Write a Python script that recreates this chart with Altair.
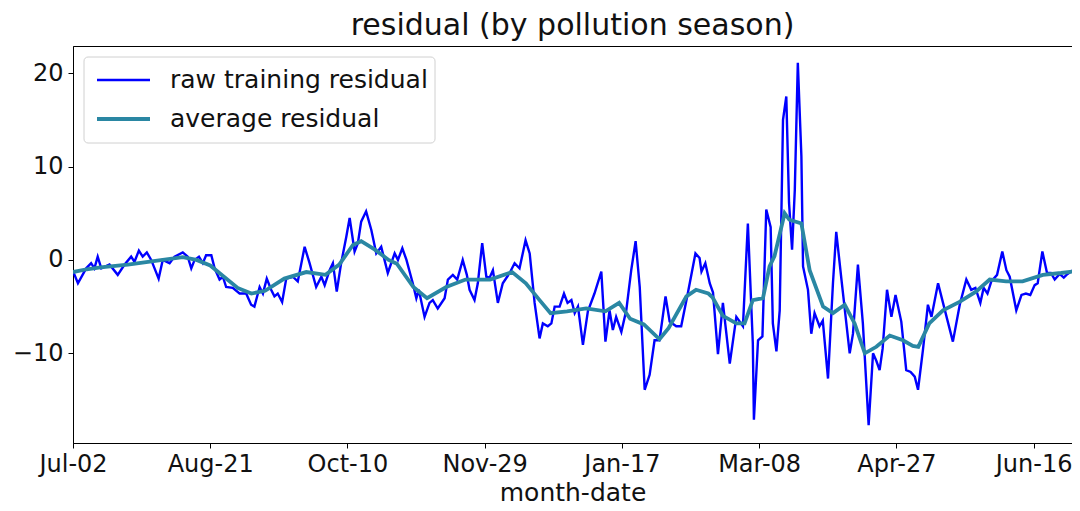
import altair as alt
import pandas as pd

# ---- data ----
tick_days = [0, 50, 100, 150, 200, 250, 300, 350]
tick_labels = ["Jul-02", "Aug-21", "Oct-10", "Nov-29", "Jan-17", "Mar-08", "Apr-27", "Jun-16"]
y_ticks = [-10, 0, 10, 20]

raw_day = [0, 1.8, 4.8, 6.6, 7.8, 9, 10.3, 13.3, 16.3, 18.8, 21.2, 22.4, 24, 25.4, 26.9, 28.5,
           31.2, 32.7, 35.2, 37, 40, 41.8, 43.1, 44.3, 45.9, 47.3, 48.5, 50.4, 51.6, 53.4, 54.6,
           55.8, 58.2, 60.7, 63.1, 64.9, 66.1, 68, 69.2, 70.6, 72.2, 73.4, 74.6, 76.2, 77.7, 80.1,
           81.9, 84.4, 86.2, 88.6, 90.5, 91.7, 93.5, 94.7, 96.1, 97.7, 99.6, 100.8, 102.6, 103.8,
           105, 106.8, 108.7, 110.5, 112.3, 114.7, 117.2, 118.4, 120, 121.5, 123.8, 125.1, 126,
           128.1, 129.9, 131.1, 132.9, 135.4, 136.6, 138.4, 140, 142, 143.5, 144.5, 146.3, 147.5,
           149.1, 150.6, 151.8, 153, 154.8, 156.6, 159.1, 160.9, 162.7, 164.9, 166.4, 168.2, 170,
           171.2, 173, 174.3, 175.5, 177.3, 178.9, 180.2, 181.6, 182.8, 184, 185.8, 187.6, 190,
           192.5, 194, 195.5, 196.7, 197.9, 199.8, 201.6, 203.4, 205, 206.5, 208.3, 210.1, 211.9,
           213.7, 215.9, 217.4, 219.8, 221.6, 224, 226.8, 228.3, 229, 230.4, 232, 233.2, 235,
           236.8, 239.3, 241.7, 244.1, 245.9, 247.7, 248.1, 249.6, 251.2, 252.6, 254.2, 255,
           256.3, 257.5, 258.7, 259.9, 260.9, 262, 263, 264.1, 265.4, 266, 267.8, 269, 270.2, 272,
           273.2, 275.1, 276.9, 278.1, 280, 283, 284.2, 286, 287.8, 289.9, 291.5, 292.7, 293.9,
           295, 296.6, 298.2, 299.7, 301.8, 303.6, 305.2, 306.7, 307.9, 309.7, 311.5, 312.8,
           315.2, 317, 320.6, 323.1, 325.5, 327.3, 328.8, 330.6, 331.8, 333.2, 334.6, 336.7,
           338.6, 340.1, 341.3, 343.7, 345.6, 347.2, 348.8, 350.4, 351.5, 353.2, 354.9, 356.3,
           357.7, 359.5, 361, 362, 363.4, 364.4, 365.4]
raw_val = [-1.2, -2.5, -0.9, -0.35, -0.9, 0.35, -0.9, -0.5, -1.6, -0.5, 0.35, -0.2, 1.0, 0.35, 0.8, 0,
           -2.0, 0, -0.35, 0.35, 0.8, 0.35, -0.9, 0, 0.35, -0.35, 0.5, 0.5, -0.9, -2.1, -1.8,
           -2.9, -3.0, -3.6, -3.6, -4.8, -5.0, -2.9, -3.6, -2.0, -3.2, -3.9, -3.6, -4.5, -2.0, -1.8,
           -2.3, 1.4, -0.35, -2.9, -1.8, -2.7, -1.1, -0.35, -3.4, -0.35, 2.5, 4.5, 0.9, 1.8,
           4.1, 5.2, 3.2, 0.7, 1.4, -1.4, 0.7, 0, 1.25, 0, -2.5, -4.1, -3.2,
           -6.1, -4.6, -4.3, -5.2, -4.1, -2.1, -1.6, -2.1, 0, -1.6, -3.2, -4.3, -2.5,
           1.8, -1.8, -1.9, -1.1, -4.6, -2.5, -1.4, -0.35, -0.9, 2.1, 0.7, -4.6, -8.4,
           -6.8, -7.1, -6.8, -5.0, -5.0, -3.6, -4.6, -4.3, -5.7, -5.0, -9.1, -5.5, -3.6,
           -1.25, -8.75, -5.4, -7.5, -6.1, -7.7, -5.4, -1.1, 2.0, -2.9, -13.9, -12.3, -8.6,
           -8.6, -3.9, -6.6, -7.1, -7.1, -3.6, 0.7, 0.2, -1.25, -0.35, -2.5, -3.5, -10.1,
           -4.6, -11.1, -6.1, -7.1, 3.9, -8.9, -17.1, -8.6, -8.2, 5.4, 3.5, -6.8,
           -9.8, -5.4, 15.0, 17.5, 6.1, 1.1, 7.5, 21.1, 11.1, -0.7, -3.2, -7.9, -5.7, -7.1,
           -6.5, -12.7, -2.5, 3.0, -2.1, -10.0, -7.9, -0.5, -6.8, -17.7, -10.0, -10.8, -11.8,
           -9.5, -3.2, -6.1, -3.75, -6.6, -11.8, -12.0, -12.5, -13.9, -9.6, -4.8, -6.1,
           -2.5, -4.6, -8.75, -4.8, -2.1, -3.2, -3.0, -4.6, -3.0, -3.6, -2.3, -1.6,
           0.9, -1.1, -1.8, -5.4, -3.75, -3.6, -3.75, -2.7, -2.5, 0.9, -1.4, -1.4,
           -2.1, -1.5, -1.9, -1.6, -1.3, -1.1, -0.8]

avg_day = [0, 5, 10, 20, 30, 40, 45, 50, 55, 60, 65, 70, 77, 85, 92, 97, 102, 105, 110, 115,
           118, 124, 129, 136, 143, 152, 160, 165, 170, 174, 180, 187, 194, 199, 203, 208,
           213.7, 217, 223.5, 227, 231.5, 233, 236.8, 241.7, 244.7, 247.7, 251.4, 253.8, 255.6,
           259.3, 261, 265.4, 268.4, 273.3, 276.9, 281.2, 284.8, 288.5, 292.7, 297.6, 302.4,
           306, 308, 312, 317, 323, 329, 334, 340, 346, 353.4, 360, 365.4]
avg_val = [-1.3, -1.0, -0.8, -0.5, -0.1, 0.3, 0.0, -0.6, -1.8, -3.0, -3.6, -3.3, -2.0, -1.3, -1.6,
           -0.5, 1.6, 2.0, 1.1, 0.0, -0.4, -2.9, -4.1, -2.9, -2.1, -2.1, -1.3, -2.5, -4.3, -5.7,
           -5.5, -5.2, -5.5, -4.6, -6.3, -6.9, -8.5, -7.3, -3.9, -3.2, -3.6, -4.0, -6.0, -6.8,
           -6.8, -4.3, -4.1, -0.7, 0.4, 5.0, 4.3, 3.9, -1.1, -5.0, -5.7, -4.8, -6.8, -10.0,
           -9.3, -8.1, -8.6, -9.2, -9.3, -6.8, -5.4, -4.5, -3.4, -2.1, -2.3, -2.3, -1.6, -1.4, -1.2]

legend_labels = ["raw training residual", "average residual"]

RAW_COLOR = "#0000ff"
AVG_COLOR = "#2a87a3"
FONT = "DejaVu Sans"

raw_df = pd.DataFrame({"day": raw_day, "value": raw_val})
avg_df = pd.DataFrame({"day": avg_day, "value": avg_val})

label_expr = "[" + ",".join("'%s'" % t for t in tick_labels) + "][round(datum.value / 50)]"

x_enc = alt.X("day:Q",
              scale=alt.Scale(domain=[0, 364], nice=False, zero=False),
              axis=alt.Axis(values=tick_days, labelExpr=label_expr, title="month-date",
                            labelFlush=False))
y_enc = alt.Y("value:Q",
              scale=alt.Scale(domain=[-19.6, 22.9], nice=False, zero=False),
              axis=alt.Axis(values=y_ticks, title=None))

raw_line = alt.Chart(raw_df).mark_line(color=RAW_COLOR, strokeWidth=2.4, clip=True).encode(x=x_enc, y=y_enc)
avg_line = alt.Chart(avg_df).mark_line(color=AVG_COLOR, strokeWidth=3.8, clip=True).encode(x=x_enc, y=y_enc)

# legend (drawn as decoration in the upper-left corner)
leg_df = pd.DataFrame({"label": legend_labels, "row": [0, 1]})
legend_box = alt.Chart(pd.DataFrame({"k": [0]})).mark_rect(
    fill="white", fillOpacity=0.85, stroke="#d0d0d0", strokeWidth=1, cornerRadius=4
).encode(x=alt.value(11), x2=alt.value(362), y=alt.value(11), y2=alt.value(97))
leg_raw = alt.Chart(pd.DataFrame({"k": [0]})).mark_rule(color=RAW_COLOR, strokeWidth=2.4).encode(
    x=alt.value(24), x2=alt.value(77), y=alt.value(34))
leg_avg = alt.Chart(pd.DataFrame({"k": [0]})).mark_rule(color=AVG_COLOR, strokeWidth=3.8).encode(
    x=alt.value(24), x2=alt.value(77), y=alt.value(73))
leg_t1 = alt.Chart(leg_df[leg_df.row == 0]).mark_text(
    align="left", baseline="middle", fontSize=25, font=FONT, color="#111"
).encode(x=alt.value(97), y=alt.value(34), text="label:N")
leg_t2 = alt.Chart(leg_df[leg_df.row == 1]).mark_text(
    align="left", baseline="middle", fontSize=25, font=FONT, color="#111"
).encode(x=alt.value(97), y=alt.value(73), text="label:N")

chart = alt.layer(raw_line, avg_line, legend_box, leg_raw, leg_avg, leg_t1, leg_t2).properties(
    width=999, height=397,
    title=alt.Title("residual (by pollution season)", fontSize=30, font=FONT,
                    fontWeight="normal", color="#111", anchor="middle", offset=5),
    autosize=alt.AutoSizeParams(type="none"),
    padding={"left": 65, "top": 38, "right": 0, "bottom": 66},
).configure_view(
    stroke="black", strokeWidth=1
).configure_axis(
    grid=False, domainColor="black", domainWidth=1, tickColor="black", tickSize=5,
    tickWidth=1, labelColor="#111", labelFont=FONT, labelFontSize=24, labelPadding=4,
    titleFont=FONT, titleFontSize=25, titleFontWeight="normal", titleColor="#111",
).configure_axisX(
    titlePadding=4, labelAngle=0
).configure_axisY(
    labelPadding=5
)

chart.save("out.html", embed_options={"renderer": "svg", "actions": False})
